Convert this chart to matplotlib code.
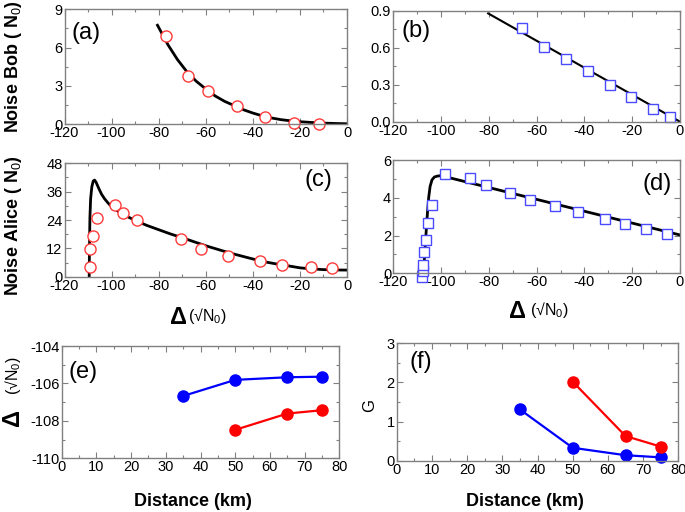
import matplotlib
matplotlib.use("Agg")
import matplotlib.pyplot as plt
from matplotlib.ticker import MultipleLocator

plt.rcParams['font.family'] = ['Liberation Sans', 'DejaVu Sans']
plt.rcParams['mathtext.fontset'] = 'custom'
plt.rcParams['mathtext.rm'] = 'Liberation Sans'
plt.rcParams['mathtext.it'] = 'Liberation Sans:italic'
plt.rcParams['mathtext.bf'] = 'Liberation Sans:bold'
plt.rcParams['axes.unicode_minus'] = False

# ---- data ----
# (a) Noise Bob, red circles + fit
a_x = [-77, -67.4, -59.2, -46.6, -34.8, -22.4, -12.1]
a_y = [6.9, 3.77, 2.62, 1.41, 0.58, 0.1, 0.03]
a_fit_x = [-80.5, -76, -72, -68, -64, -60, -56, -52, -48, -44, -40, -36, -32, -28, -24, -20, -15, -10, -5, 0]
a_fit_y = [7.75, 6.2, 5.05, 4.1, 3.35, 2.75, 2.2, 1.78, 1.45, 1.12, 0.86, 0.64, 0.47, 0.34, 0.25, 0.18, 0.12, 0.07, 0.04, 0.02]

# (b) Noise Bob, blue squares + fit
b_x = [-66.3, -57.0, -47.8, -38.7, -29.4, -20.3, -11.3, -4.0]
b_y = [0.757, 0.603, 0.508, 0.411, 0.297, 0.203, 0.105, 0.04]
b_fit_x = [-80.3, 0]
b_fit_y = [0.878, 0.0]

# (c) Noise Alice, red circles + fit
c_x = [-109.1, -109.1, -108.0, -106.0, -98.5, -95.2, -89.3, -70.4, -61.9, -50.4, -37.1, -27.6, -15.5, -6.3]
c_y = [4.0, 11.9, 17.4, 24.8, 30.3, 26.8, 23.8, 16.1, 11.7, 8.8, 6.8, 5.1, 4.3, 3.7]
c_fit_x = [-109.5, -109.4, -109.2, -108.9, -108.4, -107.8, -107.2, -106.5, -105.5, -104.3, -103, -101.5, -100, -97, -93, -90,
           -85, -80, -75, -70, -65, -60, -55, -50, -45, -40, -35, -30, -25, -20, -15, -10, -5, 0]
c_fit_y = [0, 12, 25, 33, 38, 40.5, 40.9, 39.8, 37.5, 35, 33, 31.2, 29.6, 27.5, 25.3, 23.8,
           21.7, 19.9, 18.1, 16.5, 14.8, 13.1, 11.6, 10.1, 8.8, 7.5, 6.3, 5.4, 4.6, 3.75, 3.3, 3.0, 2.85, 2.8]

# (d) Noise Alice, blue squares + fit
d_x = [-108.1, -107.7, -107.4, -107.1, -106.4, -105.3, -103.9, -98.2, -88.1, -81.0, -71.0, -62.6, -52.5, -42.7, -31.6, -23.2, -14.4, -5.5]
d_y = [-0.18, 0.1, 0.44, 1.14, 1.76, 2.65, 3.62, 5.24, 5.06, 4.68, 4.23, 3.88, 3.56, 3.23, 2.88, 2.61, 2.35, 2.06]
d_fit_x = [-107.4, -107.0, -106.6, -106.2, -105.7, -105.2, -104.6, -103.8, -102.8, -101.5, -100, 0]
d_fit_y = [0, 0.7, 1.5, 2.3, 3.2, 4.0, 4.6, 4.95, 5.1, 5.15, 5.17, 2.03]

# (e), (f) vs distance
dist_blue = [35, 50, 65, 75]
dist_red = [50, 65, 75]
e_blue = [-106.67, -105.81, -105.67, -105.64]
e_red = [-108.48, -107.61, -107.43]
f_blue = [1.31, 0.33, 0.14, 0.085]
f_red = [2.02, 0.63, 0.36]

# ---- figure ----
W, H = 685, 512
fig = plt.figure(figsize=(W / 100, H / 100), dpi=100)

def rect(l, r, t, b):
    return [l / W, 1 - b / H, (r - l) / W, (b - t) / H]

SPINE = '#808080'
RED_M = '#ff3a3a'
BLUE_M = '#4a4aff'

def style(ax, xmaj, xmin, ymaj, ymin, xlim, ylim):
    ax.set_xlim(*xlim)
    ax.set_ylim(*ylim)
    ax.xaxis.set_major_locator(MultipleLocator(xmaj))
    ax.xaxis.set_minor_locator(MultipleLocator(xmin))
    ax.yaxis.set_major_locator(MultipleLocator(ymaj))
    ax.yaxis.set_minor_locator(MultipleLocator(ymin))
    ax.tick_params(which='both', direction='in', top=True, right=True, color=SPINE,
                   labelsize=10.5, pad=1.5)
    ax.tick_params(which='major', length=4, width=0.8)
    ax.tick_params(which='minor', length=2.5, width=0.8)
    for s in ax.spines.values():
        s.set_color(SPINE)
        s.set_linewidth(1.0)

ax_a = fig.add_axes(rect(64.5, 347, 9.3, 124))
ax_b = fig.add_axes(rect(393.3, 680, 10.7, 121.7))
ax_c = fig.add_axes(rect(64.5, 347, 163.3, 276.7))
ax_d = fig.add_axes(rect(393.3, 680, 160, 273.3))
ax_e = fig.add_axes(rect(61.7, 339.3, 346, 458.3))
ax_f = fig.add_axes(rect(396.7, 678.3, 343.3, 460.7))

# (a)
ax_a.plot(a_fit_x, a_fit_y, color='black', lw=2)
ax_a.plot(a_x, a_y, 'o', ms=8, mfc='white', mec=RED_M, mew=1.0, clip_on=False)
style(ax_a, 20, 10, 3, 1.5, (-120, 0), (0, 9))
ax_a.text(0.025, 0.79, '(a)', transform=ax_a.transAxes, fontsize=17, ha='left', va='center')

# (b)
ax_b.plot(b_fit_x, b_fit_y, color='black', lw=1.5)
ax_b.plot(b_x, b_y, 's', ms=7, mfc='white', mec=BLUE_M, mew=1.0, clip_on=False)
style(ax_b, 20, 10, 0.3, 0.15, (-120, 0), (0, 0.9))
ax_b.yaxis.set_major_formatter(matplotlib.ticker.FormatStrFormatter('%.1f'))
ax_b.text(0.03, 0.82, '(b)', transform=ax_b.transAxes, fontsize=17, ha='left', va='center')

# (c)
ax_c.plot(c_fit_x, c_fit_y, color='black', lw=2)
ax_c.plot(c_x, c_y, 'o', ms=8, mfc='white', mec=RED_M, mew=1.0, clip_on=False)
style(ax_c, 20, 10, 12, 6, (-120, 0), (0, 48))
ax_c.text(0.95, 0.85, '(c)', transform=ax_c.transAxes, fontsize=17, ha='right', va='center')

# (d)
ax_d.plot(d_fit_x, d_fit_y, color='black', lw=2)
ax_d.plot(d_x, d_y, 's', ms=7, mfc='white', mec=BLUE_M, mew=1.0, clip_on=False)
style(ax_d, 20, 10, 2, 1, (-120, 0), (0, 6))
ax_d.text(0.97, 0.79, '(d)', transform=ax_d.transAxes, fontsize=17, ha='right', va='center')

# (e)
ax_e.plot(dist_blue, e_blue, '-o', color='#0000ff', lw=1.6, ms=8, clip_on=False)
ax_e.plot(dist_red, e_red, '-o', color='#ff0000', lw=1.6, ms=8, clip_on=False)
style(ax_e, 10, 5, 2, 1, (0, 80), (-110, -104))
ax_e.text(0.023, 0.77, '(e)', transform=ax_e.transAxes, fontsize=17, ha='left', va='center')

# (f)
ax_f.plot(dist_blue, f_blue, '-o', color='#0000ff', lw=1.6, ms=8, clip_on=False)
ax_f.plot(dist_red, f_red, '-o', color='#ff0000', lw=1.6, ms=8, clip_on=False)
style(ax_f, 10, 5, 1, 0.5, (0, 80), (0, 3))
ax_f.text(0.047, 0.84, '(f)', transform=ax_f.transAxes, fontsize=17, ha='left', va='center')

# axis labels
def fx(x):
    return x / W

def fy(y):
    return 1 - y / H

fig.text(fx(14), fy(67), 'Noise Bob ( N$_0$)', rotation=90, fontsize=13, fontweight='bold',
         ha='center', va='center')
fig.text(fx(14), fy(226), 'Noise Alice ( N$_0$)', rotation=90, fontsize=13, fontweight='bold',
         ha='center', va='center')

fig.text(fx(187), fy(318), 'Δ', fontsize=17, fontweight='bold', ha='right', va='center')
fig.text(fx(188), fy(316), '(√N$_0$)', fontsize=11.5, ha='left', va='center')
fig.text(fx(526), fy(312), 'Δ', fontsize=17, fontweight='bold', ha='right', va='center')
fig.text(fx(530), fy(310), '(√N$_0$)', fontsize=11.5, ha='left', va='center')

fig.text(fx(12), fy(417), 'Δ', rotation=90, fontsize=17, fontweight='bold', ha='center', va='center')
fig.text(fx(13), fy(376), '(√N$_0$)', rotation=90, fontsize=11.5, ha='center', va='center')
fig.text(fx(370), fy(405), 'G', rotation=90, fontsize=12, ha='center', va='center')

fig.text(fx(193), fy(502), 'Distance (km)', fontsize=13, fontweight='bold', ha='center', va='center')
fig.text(fx(525), fy(502), 'Distance (km)', fontsize=13, fontweight='bold', ha='center', va='center')

fig.savefig('out.png', dpi=100)
